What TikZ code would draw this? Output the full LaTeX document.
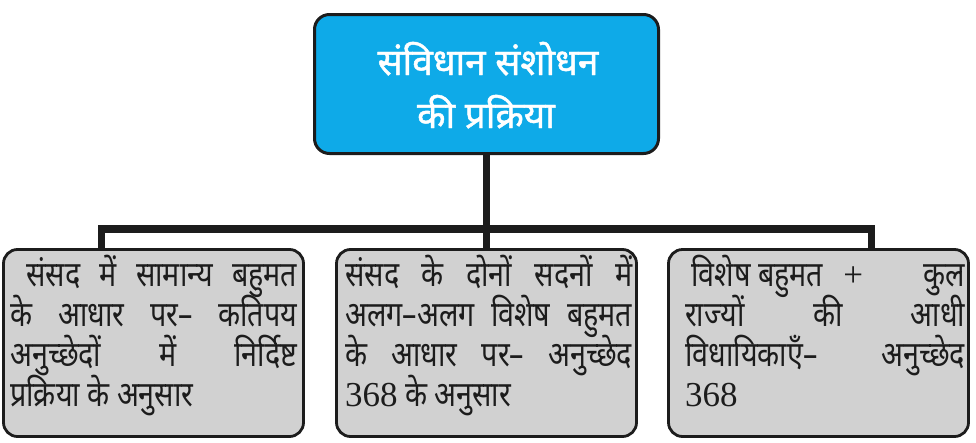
\documentclass[tikz,border=0pt]{standalone}
\usepackage{fontspec}
\setmainfont[Script=Devanagari,FakeStretch=0.82]{Noto Sans}
\newfontfamily\titlefont[Script=Devanagari,FakeBold=1.2]{Noto Sans}
\newfontfamily\latn{Liberation Serif}
\newcommand\fixlines{\lineskiplimit-100pt\relax\lineskip0pt\relax}
\definecolor{topblue}{RGB}{14,170,232}
\definecolor{boxgray}{RGB}{209,209,209}
\definecolor{ink}{RGB}{28,28,28}
\tikzset{
  topbox/.style={draw=ink,line width=3pt,rounded corners=15pt,fill=topblue,
    minimum width=344pt,minimum height=139pt,inner sep=0pt},
  subbox/.style={draw=ink,line width=2.8pt,rounded corners=14pt,fill=boxgray,
    minimum width=300pt,minimum height=187pt,inner sep=0pt},
  boxtext/.style={anchor=base west,align=justify,inner sep=0pt,text=ink,
    font=\fontsize{35}{40}\selectfont\fixlines},
  titletext/.style={anchor=base,text=white,inner sep=0pt,
    font=\titlefont\fontsize{37}{44}\selectfont},
  link/.style={draw=ink,line width=7.5pt,line join=miter}
}
\begin{document}
\begin{tikzpicture}[x=1pt,y=-1pt]
\useasboundingbox (0,0) rectangle (976,442);
% top box
\node[topbox] (top) at (486.5,84) {};
\node[titletext] (title1) at (488,75) {संविधान संशोधन};
\node[titletext] (title2) at (486,128) {की प्रक्रिया};
% bottom boxes
\node[subbox] (b1) at (153.5,343) {};
\node[subbox] (b2) at (486.5,343) {};
\node[subbox] (b3) at (818.5,343) {};
% connectors
\coordinate (jl) at (101.5,229);
\coordinate (jm) at (486.5,229);
\coordinate (jr) at (871.5,229);
\draw[link] (top.south) -- (jm);
\draw[link] (jl |- b1.north) -- (jl) -- (jr) -- (jr |- b3.north);
\draw[link] (jm) -- (jm |- b2.north);
% texts
\node[boxtext,text width=287pt] (t1) at (10,286)
  {\hspace*{16pt}संसद में सामान्य बहुमत\linebreak
   के आधार पर– कतिपय\linebreak
   अनुच्छेदों में निर्दिष्ट\linebreak
   प्रक्रिया के अनुसार};
\node[boxtext,text width=287pt] (t2) at (345,286)
  {संसद के दोनों सदनों में\linebreak
   अलग–अलग विशेष बहुमत\linebreak
   के आधार पर– अनुच्छेद\linebreak
   {\latn 368} के अनुसार};
\node[boxtext,text width=280pt] (t3) at (685,286)
  {\hspace*{6pt}विशेष बहुमत\hspace{20pt}{\latn +}\hfill कुल\linebreak
   राज्यों की आधी\linebreak
   विधायिकाएँ– अनुच्छेद\linebreak
   {\latn 368}};
\end{tikzpicture}
\end{document}
